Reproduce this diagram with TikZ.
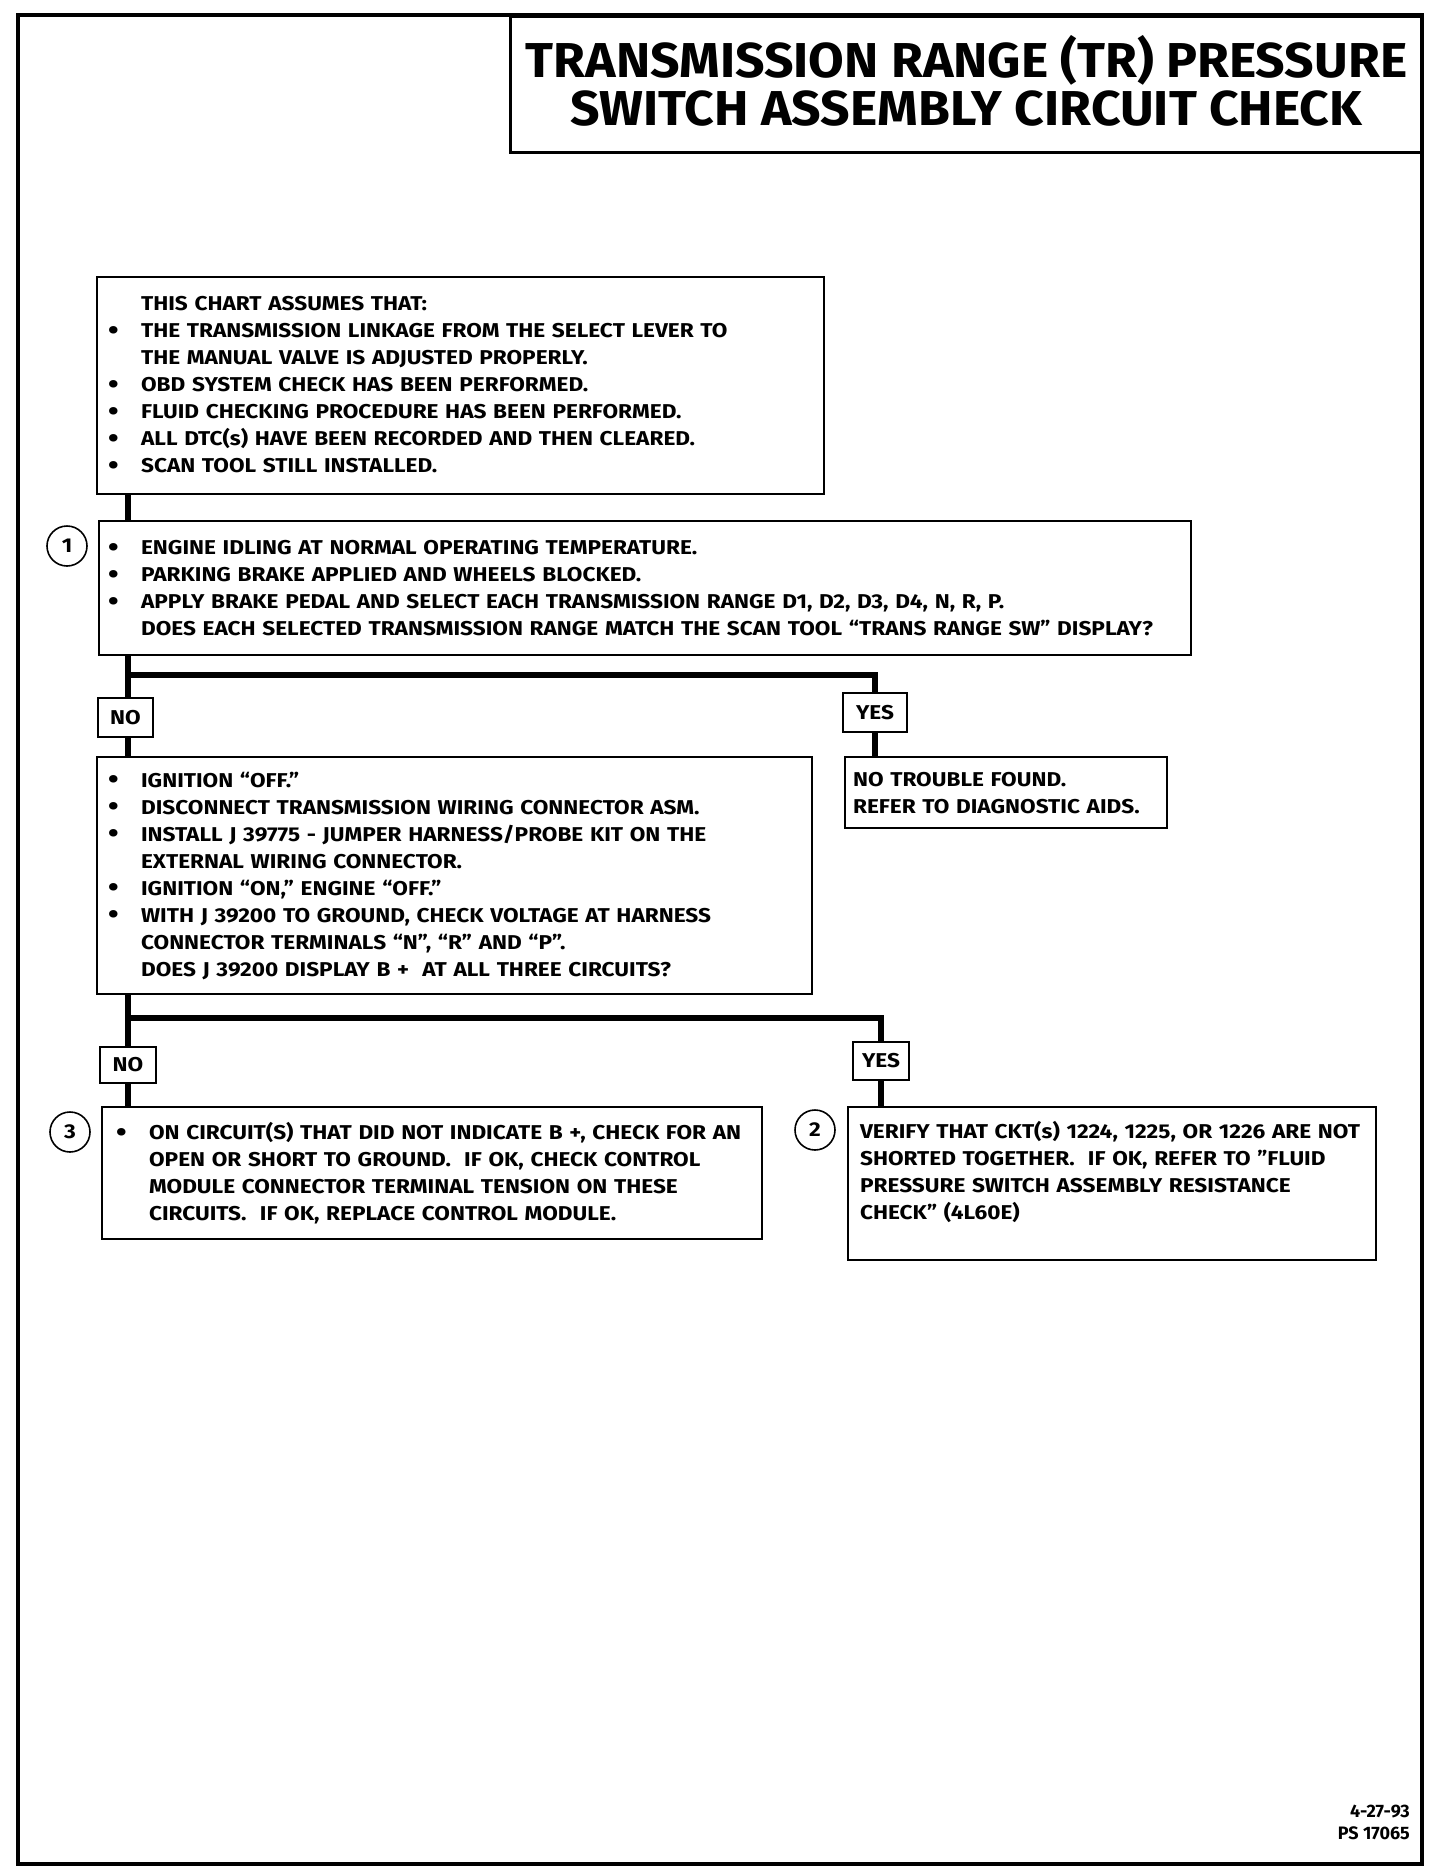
\documentclass[tikz,border=0pt]{standalone}
\usepackage{fontspec}
\setmainfont{Fira Sans}
\newfontfamily\bodyf{Fira Sans}[FakeStretch=1.13]
\newfontfamily\titlef{Fira Sans}[FakeStretch=1.055]
\newcommand\bl{\makebox[33pt][l]{\raisebox{-0.08em}{\scalebox{1.35}{•}}}}
\newcommand\ind{\hspace*{33pt}}
\begin{document}
\begin{tikzpicture}[x=1pt,y=-1pt,
  body/.style={font=\bodyf\fontsize{20}{27}\selectfont\bfseries},
  box/.style={draw, line width=2.2pt, anchor=north west, align=left, inner ysep=0pt, body},
  lab/.style={draw, line width=2pt, inner sep=0pt, body},
  circ/.style={draw, circle, line width=1.6pt, inner sep=0pt, minimum size=40pt, body},
  conn/.style={line width=6pt}]
\useasboundingbox (0,0) rectangle (1440,1876);
\fill[white] (0,0) rectangle (1440,1876);
% page frame
\draw[line width=4pt] (18,15) rectangle (1422,1864);
% title
\node[draw, line width=3pt, anchor=north west, minimum width=912pt, minimum height=136pt, inner sep=0pt] (title) at (509,15) {};
\node[align=center, inner sep=0pt, font=\titlef\fontsize{49}{48}\selectfont\bfseries] (titletext)
  at ([yshift=4pt]title.center)
  {TRANSMISSION RANGE (TR) PRESSURE\\SWITCH ASSEMBLY CIRCUIT CHECK};

% boxes
\node[box, minimum width=727pt, minimum height=217pt, text width=705pt, inner xsep=11pt] (a0) at (96,276)
 {\ind THIS CHART ASSUMES THAT:\\
  \bl THE TRANSMISSION LINKAGE FROM THE SELECT LEVER TO\\
  \ind THE MANUAL VALVE IS ADJUSTED PROPERLY.\\
  \bl OBD SYSTEM CHECK HAS BEEN PERFORMED.\\
  \bl FLUID CHECKING PROCEDURE HAS BEEN PERFORMED.\\
  \bl ALL DTC(s) HAVE BEEN RECORDED AND THEN CLEARED.\\
  \bl SCAN TOOL STILL INSTALLED.};

\node[box, minimum width=1092pt, minimum height=134pt, text width=1074pt, inner xsep=9pt] (a1) at (98,520)
 {\bl ENGINE IDLING AT NORMAL OPERATING TEMPERATURE.\\
  \bl PARKING BRAKE APPLIED AND WHEELS BLOCKED.\\
  \bl APPLY BRAKE PEDAL AND SELECT EACH TRANSMISSION RANGE D1, D2, D3, D4, N, R, P.\\
  \ind DOES EACH SELECTED TRANSMISSION RANGE MATCH THE SCAN TOOL “TRANS RANGE SW” DISPLAY?};

\node[box, minimum width=715pt, minimum height=237pt, text width=693pt, inner xsep=11pt] (a2) at (96,756)
 {\bl IGNITION “OFF.”\\
  \bl DISCONNECT TRANSMISSION WIRING CONNECTOR ASM.\\
  \bl INSTALL J 39775 - JUMPER HARNESS/PROBE KIT ON THE\\
  \ind EXTERNAL WIRING CONNECTOR.\\
  \bl IGNITION “ON,” ENGINE “OFF.”\\
  \bl WITH J 39200 TO GROUND, CHECK VOLTAGE AT HARNESS\\
  \ind CONNECTOR TERMINALS “N”, “R” AND “P”.\\
  \ind DOES J 39200 DISPLAY B +\ \ AT ALL THREE CIRCUITS?};

\node[box, minimum width=322pt, minimum height=71pt, text width=306pt, inner xsep=8pt] (ntf) at (844,756)
 {NO TROUBLE FOUND.\\
  REFER TO DIAGNOSTIC AIDS.};

\node[box, minimum width=660pt, minimum height=132pt, text width=632pt, inner xsep=14pt] (a3) at (101,1106)
 {\bl ON CIRCUIT(S) THAT DID NOT INDICATE B +, CHECK FOR AN\\
  \ind OPEN OR SHORT TO GROUND.\ \ IF OK, CHECK CONTROL\\
  \ind MODULE CONNECTOR TERMINAL TENSION ON THESE\\
  \ind CIRCUITS.\ \ IF OK, REPLACE CONTROL MODULE.};

\node[box, minimum width=528pt, minimum height=153pt, text width=504pt, inner xsep=12pt] (a4) at (847,1106)
 {VERIFY THAT CKT(s) 1224, 1225, OR 1226 ARE NOT\\
  SHORTED TOGETHER.\ \ IF OK, REFER TO ”FLUID\\
  PRESSURE SWITCH ASSEMBLY RESISTANCE\\
  CHECK” (4L60E)\\ \mbox{}};

% labels
\node[lab, minimum width=55pt, minimum height=39pt] (no1) at (125.5,717.5) {NO};
\node[lab, minimum width=64pt, minimum height=39pt] (yes1) at (875,712.5) {YES};
\node[lab, minimum width=56pt, minimum height=36pt] (no2) at (128,1065) {NO};
\node[lab, minimum width=56pt, minimum height=38pt] (yes2) at (881,1061) {YES};

% step numbers
\node[circ] (n1) at (67,546) {1};
\node[circ] (n3) at (70,1132) {3};
\node[circ] (n2) at (815,1130) {2};

% date
\node[anchor=north east, align=right, inner sep=0pt, font=\fontsize{18}{22}\selectfont\bfseries] (date) at (1410,1805)
 {4-27-93\\PS 17065};

% connectors
\coordinate (colL) at (128,0);
\coordinate (j1) at (128,675);
\coordinate (j2) at (128,1018);
\draw[conn] (a0.south -| colL) -- (a1.north -| colL);
\draw[conn] (a1.south -| colL) -- (no1.north -| colL);
\draw[conn] (no1.south -| colL) -- (a2.north -| colL);
\draw[conn] (j1) -| (yes1.north);
\draw[conn] (yes1.south) -- (ntf.north -| yes1.south);
\draw[conn] (a2.south -| colL) -- (no2.north -| colL);
\draw[conn] (no2.south -| colL) -- (a3.north -| colL);
\draw[conn] (j2) -| (yes2.north);
\draw[conn] (yes2.south) -- (a4.north -| yes2.south);
\end{tikzpicture}
\end{document}
